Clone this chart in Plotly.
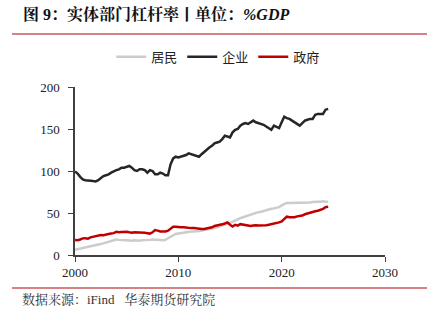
import plotly.graph_objects as go

# quarterly observations, 2000Q1 .. 2024Q3 (decimal years)
years = [2000 + 0.25 * i for i in range(99)]

corporate = [
    99.5, 97, 93, 90,
    89, 89, 88.5, 88,
    87.6, 89, 92, 94,
    95, 96, 98, 100,
    101, 102, 104, 104,
    105, 106, 104, 101,
    100, 102, 102, 101,
    98, 101, 100, 96,
    96, 98, 97, 95,
    95, 108, 115, 117,
    116, 117, 118, 119,
    121, 120, 119, 118,
    117, 120, 123, 125,
    128, 130, 133, 134,
    135, 138, 142, 141,
    140, 146, 149, 150,
    154, 156, 157, 156,
    158, 160, 158, 157,
    156, 155, 153, 151,
    149, 154, 152, 151,
    158, 164.6, 163, 162,
    160, 158, 156, 154,
    157, 160, 161, 162,
    162, 167, 168, 168,
    168, 173, 174,
]

household = [
    6.3, 7, 8, 9,
    9.5, 10, 10.5, 11,
    12, 12.5, 13, 14,
    15, 16, 17, 18,
    18.5, 18, 17.5, 17.5,
    17.5, 17, 17, 17.5,
    17, 17, 17.5, 17.5,
    18, 18, 18.5, 18.5,
    18, 17.8, 17.5, 18,
    20, 22, 24, 25,
    25.5, 26, 27, 27.5,
    27.5, 28, 28, 28,
    28.5, 29, 29.5, 30,
    31, 31.5, 32, 33,
    34, 35, 36, 37.5,
    38.5, 39.5, 41, 43,
    44, 45, 46, 47,
    48.5, 49.5, 50, 51,
    51.5, 52.5, 53, 54,
    55, 55.5, 56.5, 57,
    59, 61, 62, 62,
    62, 62, 62, 62,
    62, 62, 62, 62.5,
    63, 63.5, 63.5, 63.5,
    64, 63.5, 63.5,
]

government = [
    17.8, 17.5, 18.5, 19.8,
    20, 19.5, 21, 21.8,
    22, 22.5, 23.8, 23.5,
    24.5, 25, 25.5, 26,
    27.7, 27, 27.5, 27.7,
    27.7, 27, 26.5, 27,
    27, 27, 26.5, 26.5,
    26, 25.5, 27, 29.7,
    29, 28, 28, 28,
    29, 31, 33.7, 33.5,
    33, 33, 33, 32.5,
    32.5, 32, 32, 31.5,
    31.5, 31, 31, 31.5,
    32, 33, 34.5, 35,
    35.5, 36.5, 37.5, 38.8,
    36, 34, 36, 35,
    36.7, 36, 35, 34.5,
    34.5, 35, 35.5, 35,
    35, 35, 35.5, 36,
    36.5, 37, 38, 38.8,
    40, 42.8, 45.6, 45,
    45, 45, 46, 46.5,
    47, 48.5, 49.6, 50,
    51, 52, 52.7, 53.5,
    55, 57, 57.5,
]

series_names = ["居民", "企业", "政府"]
x_ticks = [2000, 2010, 2020, 2030]
y_ticks = [0, 50, 100, 150, 200]

title_text = "<b>图 9：实体部门杠杆率丨单位：<i>%GDP</i></b>"
source_text = "数据来源：iFind   华泰期货研究院"

serif = "Liberation Serif, Times New Roman, Noto Serif CJK SC, Noto Sans CJK SC, serif"
cjk = "Noto Sans CJK SC, sans-serif"

fig = go.Figure()
for name, vals, col in zip(series_names, [household, corporate, government],
                           ["#cccccc", "#262626", "#c00000"]):
    fig.add_trace(go.Scatter(x=years, y=vals, mode="lines", name=name,
                             line=dict(color=col, width=2.5)))

fig.update_layout(
    width=427, height=321,
    margin=dict(l=75, r=42, t=87, b=66),
    paper_bgcolor="white", plot_bgcolor="white",
    showlegend=True,
    legend=dict(orientation="h", x=0.462, xanchor="center", y=1.18, yanchor="middle",
                font=dict(family=cjk, size=13, color="#222"),
                bgcolor="rgba(0,0,0,0)", itemwidth=30, tracegroupgap=0),
    xaxis=dict(range=[2000, 2030], tickvals=x_ticks, showgrid=False, zeroline=False,
               showline=True, linecolor="#404040", linewidth=1.5,
               ticks="outside", ticklen=5, tickcolor="#404040",
               tickfont=dict(family=serif, size=13, color="#222")),
    yaxis=dict(range=[0, 200], tickvals=y_ticks, showgrid=False, zeroline=False,
               showline=True, linecolor="#404040", linewidth=1.5,
               ticks="outside", ticklen=5, tickcolor="#404040", ticklabelstandoff=6,
               tickfont=dict(family=serif, size=13, color="#222")),
    shapes=[
        dict(type="line", xref="paper", yref="paper",
             x0=(12 - 75) / 310, x1=(427 - 75) / 310,
             y0=(255 - 34) / 168, y1=(255 - 34) / 168,
             line=dict(color="#c9595b", width=1.5)),
        dict(type="line", xref="paper", yref="paper",
             x0=(12 - 75) / 310, x1=(427 - 75) / 310,
             y0=(255 - 288) / 168, y1=(255 - 288) / 168,
             line=dict(color="#c9595b", width=1.5)),
    ],
    annotations=[
        dict(text=title_text, xref="paper", yref="paper",
             x=(21 - 75) / 310, y=(255 - 14) / 168, xanchor="left", yanchor="middle",
             showarrow=False, font=dict(family=serif, size=16, color="#111")),
        dict(text=source_text, xref="paper", yref="paper",
             x=(20 - 75) / 310, y=(255 - 299) / 168, xanchor="left", yanchor="middle",
             showarrow=False, font=dict(family=serif, size=13, color="#333")),
    ],
)

fig.write_html("out.html")
